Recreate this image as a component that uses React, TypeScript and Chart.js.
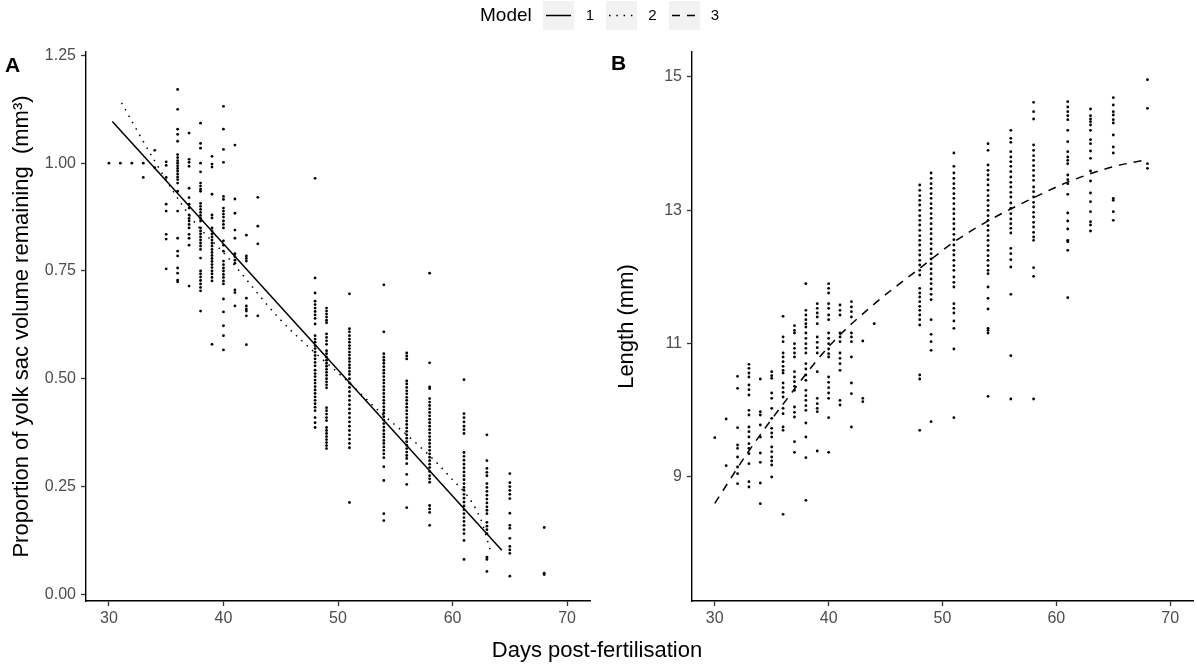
import React, { useEffect, useRef } from "react";
import { Chart, registerables } from "chart.js";

Chart.register(...registerables);

const FONT = '"Liberation Sans", Arial, Helvetica, sans-serif';

// ---------- Panel A: yolk sac proportion ----------
const yolkDays = [30, 31, 32, 33, 34, 35, 36, 37, 38, 39, 40, 41, 42, 43, 48, 49, 51, 54, 56, 58, 61, 63, 65, 68];
const yolkValues: number[][] = [
  [1.0],
  [1.0],
  [1.0],
  [1.0, 0.967],
  [1.03, 0.99],
  [1.003, 0.995, 0.967, 0.905, 0.889, 0.835, 0.824, 0.755],
  [1.171, 1.125, 1.079, 1.067, 1.051, 1.02, 1.013, 1.006, 1.0, 0.994, 0.988, 0.982, 0.975, 0.968, 0.962, 0.954, 0.935, 0.889, 0.826, 0.796, 0.785, 0.757, 0.745, 0.729, 0.725],
  [1.07, 1.009, 1.002, 0.993, 0.942, 0.92, 0.905, 0.896, 0.88, 0.872, 0.866, 0.858, 0.85, 0.835, 0.826, 0.81, 0.715],
  [1.093, 1.046, 1.035, 1.0, 0.98, 0.954, 0.947, 0.94, 0.935, 0.907, 0.9, 0.893, 0.886, 0.879, 0.872, 0.866, 0.85, 0.843, 0.836, 0.829, 0.822, 0.815, 0.808, 0.8, 0.78, 0.75, 0.743, 0.736, 0.728, 0.72, 0.712, 0.704, 0.657],
  [1.016, 0.998, 0.991, 0.928, 0.88, 0.873, 0.85, 0.843, 0.836, 0.829, 0.822, 0.815, 0.808, 0.8, 0.793, 0.786, 0.779, 0.772, 0.765, 0.758, 0.75, 0.743, 0.735, 0.727, 0.58],
  [1.132, 1.079, 1.032, 1.002, 0.923, 0.916, 0.896, 0.889, 0.882, 0.875, 0.866, 0.858, 0.85, 0.82, 0.81, 0.796, 0.773, 0.765, 0.757, 0.75, 0.742, 0.735, 0.727, 0.72, 0.685, 0.655, 0.623, 0.6, 0.567],
  [1.042, 0.917, 0.884, 0.845, 0.826, 0.79, 0.783, 0.775, 0.768, 0.706, 0.7, 0.669],
  [0.833, 0.785, 0.779, 0.773, 0.687, 0.669, 0.662, 0.657, 0.646, 0.579],
  [0.921, 0.854, 0.813, 0.646],
  [0.965, 0.734, 0.699, 0.68, 0.672, 0.664, 0.656, 0.648, 0.64, 0.627, 0.6, 0.592, 0.585, 0.577, 0.57, 0.562, 0.554, 0.546, 0.538, 0.53, 0.52, 0.512, 0.505, 0.497, 0.49, 0.482, 0.474, 0.466, 0.458, 0.45, 0.442, 0.434, 0.426, 0.41, 0.398, 0.387],
  [0.664, 0.657, 0.65, 0.643, 0.636, 0.63, 0.604, 0.596, 0.588, 0.58, 0.565, 0.558, 0.55, 0.543, 0.536, 0.529, 0.522, 0.515, 0.508, 0.5, 0.493, 0.486, 0.479, 0.433, 0.426, 0.418, 0.41, 0.403, 0.387, 0.38, 0.373, 0.366, 0.359, 0.352, 0.345, 0.338],
  [0.697, 0.616, 0.609, 0.6, 0.592, 0.585, 0.577, 0.57, 0.562, 0.555, 0.547, 0.54, 0.532, 0.525, 0.517, 0.51, 0.5, 0.49, 0.48, 0.47, 0.46, 0.45, 0.44, 0.43, 0.42, 0.41, 0.4, 0.39, 0.38, 0.37, 0.36, 0.35, 0.34, 0.213],
  [0.718, 0.609, 0.558, 0.55, 0.543, 0.536, 0.528, 0.52, 0.513, 0.505, 0.497, 0.49, 0.482, 0.474, 0.466, 0.458, 0.45, 0.443, 0.435, 0.427, 0.42, 0.412, 0.404, 0.396, 0.388, 0.38, 0.372, 0.365, 0.357, 0.35, 0.342, 0.334, 0.326, 0.317, 0.296, 0.264, 0.187, 0.171],
  [0.56, 0.553, 0.546, 0.495, 0.488, 0.48, 0.472, 0.465, 0.457, 0.45, 0.442, 0.434, 0.426, 0.418, 0.41, 0.402, 0.394, 0.386, 0.378, 0.37, 0.362, 0.354, 0.346, 0.338, 0.33, 0.322, 0.315, 0.303, 0.278, 0.255, 0.201],
  [0.745, 0.537, 0.481, 0.477, 0.454, 0.446, 0.438, 0.43, 0.422, 0.414, 0.406, 0.398, 0.39, 0.382, 0.374, 0.366, 0.358, 0.35, 0.342, 0.334, 0.326, 0.318, 0.31, 0.302, 0.294, 0.285, 0.275, 0.268, 0.26, 0.206, 0.198, 0.19, 0.16],
  [0.498, 0.419, 0.41, 0.4, 0.39, 0.382, 0.373, 0.329, 0.32, 0.311, 0.302, 0.293, 0.284, 0.275, 0.266, 0.257, 0.248, 0.241, 0.232, 0.223, 0.214, 0.205, 0.196, 0.187, 0.178, 0.169, 0.16, 0.15, 0.141, 0.125, 0.081],
  [0.37, 0.31, 0.292, 0.283, 0.275, 0.257, 0.248, 0.239, 0.23, 0.221, 0.212, 0.203, 0.195, 0.187, 0.167, 0.158, 0.15, 0.141, 0.086, 0.081, 0.053],
  [0.28, 0.259, 0.25, 0.241, 0.232, 0.222, 0.188, 0.16, 0.153, 0.13, 0.111, 0.103, 0.095, 0.042],
  [0.155, 0.049, 0.046],
];

// ---------- Panel B: length ----------
const lengthDays = [30, 31, 32, 33, 34, 35, 36, 37, 38, 39, 40, 41, 42, 43, 44, 48, 49, 51, 54, 56, 58, 61, 63, 65, 68];
const lengthValues: number[][] = [
  [9.59],
  [9.87, 9.17],
  [10.51, 10.33, 9.74, 9.48, 9.43, 9.3, 9.15, 9.05, 8.9],
  [10.69, 10.63, 10.56, 10.5, 10.38, 10.31, 10.23, 10.0, 9.93, 9.75, 9.68, 9.6, 9.5, 9.43, 9.35, 9.2, 8.93, 8.85],
  [10.47, 9.98, 9.93, 9.78, 9.6, 9.36, 9.22, 8.91, 8.6],
  [10.58, 10.52, 10.48, 10.26, 10.18, 10.03, 9.88, 9.73, 9.66, 9.6, 9.45, 9.38, 9.3, 9.24, 9.18, 9.0],
  [11.41, 11.1, 11.03, 10.86, 10.8, 10.73, 10.66, 10.6, 10.56, 10.41, 10.34, 10.27, 10.2, 10.03, 9.95, 9.75, 9.7, 8.44],
  [11.27, 11.2, 11.16, 11.0, 10.93, 10.86, 10.8, 10.58, 10.5, 10.43, 10.36, 10.3, 10.05, 9.97, 9.9, 9.53, 9.37],
  [11.9, 11.5, 11.43, 11.36, 11.3, 11.25, 11.16, 11.08, 11.0, 10.93, 10.86, 10.7, 10.62, 10.53, 10.45, 10.3, 10.22, 10.15, 10.07, 10.0, 9.81, 9.6, 9.29, 8.65],
  [11.6, 11.53, 11.46, 11.4, 11.3, 11.1, 11.02, 10.94, 10.86, 10.58, 10.18, 10.1, 10.03, 9.98, 9.39],
  [11.9, 11.83, 11.76, 11.6, 11.53, 11.43, 11.36, 11.16, 11.08, 11.0, 10.92, 10.85, 10.8, 10.5, 10.42, 10.34, 10.26, 10.18, 9.89, 9.37],
  [11.58, 11.5, 11.43, 11.16, 11.1, 11.03, 10.86, 10.78, 10.7, 10.6, 10.15, 10.08],
  [11.63, 11.55, 11.48, 11.4, 11.16, 11.1, 11.03, 10.8, 10.41, 10.25, 9.75],
  [11.04, 10.18, 10.13],
  [11.3],
  [13.38, 13.3, 13.22, 13.15, 13.08, 13.0, 12.92, 12.85, 12.78, 12.7, 12.62, 12.55, 12.48, 12.4, 12.33, 12.25, 12.18, 12.1, 12.03, 11.83, 11.76, 11.7, 11.63, 11.56, 11.5, 11.43, 11.36, 11.28, 10.53, 10.47, 9.7],
  [13.56, 13.48, 13.4, 13.33, 13.25, 13.18, 13.1, 13.03, 12.95, 12.88, 12.8, 12.72, 12.65, 12.57, 12.5, 12.42, 12.35, 12.27, 12.2, 12.12, 12.05, 11.97, 11.9, 11.82, 11.74, 11.66, 11.36, 11.14, 11.03, 10.9, 9.83],
  [13.86, 13.66, 13.56, 13.48, 13.4, 13.33, 13.25, 13.18, 13.1, 13.02, 12.95, 12.87, 12.8, 12.72, 12.64, 12.56, 12.48, 12.4, 12.33, 12.25, 12.17, 12.1, 12.0, 11.92, 11.85, 11.6, 11.53, 11.46, 11.34, 11.23, 10.92, 9.89],
  [14.0, 13.9, 13.68, 13.6, 13.53, 13.46, 13.38, 13.3, 13.22, 13.15, 13.07, 13.0, 12.92, 12.85, 12.77, 12.7, 12.62, 12.55, 12.47, 12.4, 12.32, 12.25, 12.17, 12.1, 12.05, 11.85, 11.68, 11.52, 11.23, 11.2, 11.16, 10.21],
  [14.2, 14.08, 14.02, 13.88, 13.8, 13.73, 13.66, 13.58, 13.5, 13.42, 13.35, 13.27, 13.2, 13.11, 13.03, 12.95, 12.87, 12.8, 12.73, 12.66, 12.43, 12.35, 12.26, 12.15, 11.74, 10.82, 10.17],
  [14.62, 14.48, 14.37, 13.98, 13.9, 13.82, 13.75, 13.67, 13.6, 13.52, 13.45, 13.35, 13.28, 13.2, 13.12, 13.05, 12.97, 12.9, 12.82, 12.75, 12.67, 12.6, 12.55, 12.14, 12.01, 10.17],
  [14.63, 14.55, 14.48, 14.42, 14.36, 14.2, 14.03, 13.88, 13.8, 13.75, 13.7, 13.53, 13.46, 13.4, 13.24, 12.96, 12.84, 12.72, 12.55, 12.53, 12.4, 11.69],
  [14.52, 14.42, 14.37, 14.33, 14.28, 14.2, 14.06, 14.0, 13.89, 13.78, 13.59, 13.44, 13.26, 13.13, 12.98, 12.83, 12.78, 12.69],
  [14.69, 14.58, 14.48, 14.43, 14.36, 14.31, 14.13, 13.95, 13.86, 13.18, 13.15, 12.98, 12.85],
  [14.96, 14.53, 13.7, 13.63],
];

// ---------- Model fits ----------
const model1Days = [30.3, 64.3];
const model1Yolk = [1.097, 0.102];
const model2Days = [31.1, 34, 37.2, 40.4, 44.9, 47.8, 50.8, 53.7, 56.6, 59.5, 62.4, 63.3];
const model2Yolk = [1.14, 1.005, 0.873, 0.781, 0.639, 0.565, 0.495, 0.422, 0.356, 0.28, 0.178, 0.102];
const model3Days = [30, 32.85, 36.05, 40.0, 43.9, 48, 51.05, 54.1, 57.9, 61.1, 64.9, 67.65];
const model3Length = [8.605, 9.355, 10.105, 10.955, 11.58, 12.13, 12.53, 12.85, 13.18, 13.43, 13.65, 13.75];

// ---------- Axes ----------
const xTicks = [30, 40, 50, 60, 70];
const yolkTicks = [0, 0.25, 0.5, 0.75, 1.0, 1.25];
const lengthTicks = [9, 11, 13, 15];
const legendLabels = ["1", "2", "3"];
const modelDashes: number[][] = [[], [1.5, 5.8], [8, 7]];

function toPoints(days: number[], values: number[][]) {
  const pts: { x: number; y: number }[] = [];
  days.forEach((d, i) => values[i].forEach((v) => pts.push({ x: d, y: v })));
  return pts;
}
function pairs(xs: number[], ys: number[]) {
  return xs.map((x, i) => ({ x, y: ys[i] }));
}

function lineDataset(data: { x: number; y: number }[], dash: number[]) {
  return {
    data,
    showLine: true,
    borderColor: "#000",
    borderWidth: 1.5,
    borderDash: dash,
    pointRadius: 0,
    cubicInterpolationMode: "monotone",
    fill: false,
  };
}
function pointDataset(data: { x: number; y: number }[]) {
  return {
    data,
    showLine: false,
    pointRadius: 1.4,
    pointBackgroundColor: "#000",
    pointBorderWidth: 0,
  };
}

function makeOptions(p: {
  yMin: number;
  yMax: number;
  yTicks: number[];
  yFmt: (v: number) => string;
  yTitle: string;
  yWidth: number;
  titlePad: number;
  padRight: number;
}) {
  const tickFont = { family: FONT, size: 16 };
  return {
    animation: false,
    responsive: false,
    events: [],
    layout: { padding: { left: 0, top: 52, right: p.padRight, bottom: 35 } },
    plugins: { legend: { display: false }, tooltip: { enabled: false } },
    scales: {
      x: {
        type: "linear",
        min: 28,
        max: 72,
        afterBuildTicks: (s: any) => {
          s.ticks = xTicks.map((v) => ({ value: v }));
        },
        afterFit: (s: any) => {
          s.height = 30;
        },
        ticks: { color: "#4d4d4d", font: tickFont, padding: 3, autoSkip: false, maxRotation: 0, callback: (v: any) => String(v) },
        grid: { display: true, drawOnChartArea: false, drawTicks: true, tickLength: 5, tickColor: "#333", tickWidth: 1.3 },
        border: { display: true, color: "#000", width: 1.4 },
      },
      y: {
        type: "linear",
        min: p.yMin,
        max: p.yMax,
        afterBuildTicks: (s: any) => {
          s.ticks = p.yTicks.map((v) => ({ value: v }));
        },
        afterFit: (s: any) => {
          s.width = p.yWidth;
        },
        ticks: { color: "#4d4d4d", font: tickFont, padding: 5, autoSkip: false, callback: (v: any) => p.yFmt(Number(v)) },
        grid: { display: true, drawOnChartArea: false, drawTicks: true, tickLength: 5, tickColor: "#333", tickWidth: 1.3 },
        border: { display: true, color: "#000", width: 1.4 },
        title: {
          display: true,
          text: p.yTitle,
          color: "#000",
          font: { family: FONT, size: 22 },
          padding: { top: p.titlePad, bottom: 0 },
        },
      },
    },
  };
}

function Panel({ left, width, build }: { left: number; width: number; build: () => any }) {
  const ref = useRef<HTMLCanvasElement>(null);
  useEffect(() => {
    const chart = new Chart(ref.current as HTMLCanvasElement, build());
    return () => chart.destroy();
  }, []);
  return (
    <canvas
      ref={ref}
      width={width}
      height={666}
      style={{ position: "absolute", left, top: 0, width, height: 666 }}
    />
  );
}

const buildA = () => ({
  type: "scatter",
  data: {
    datasets: [
      lineDataset(pairs(model1Days, model1Yolk), modelDashes[0]),
      lineDataset(pairs(model2Days, model2Yolk), modelDashes[1]),
      pointDataset(toPoints(yolkDays, yolkValues)),
    ],
  },
  options: makeOptions({
    yMin: -0.0155,
    yMax: 1.258,
    yTicks: yolkTicks,
    yFmt: (v) => v.toFixed(2),
    yTitle: "Proportion of yolk sac volume remaining  (mm³)",
    yWidth: 86,
    titlePad: 9,
    padRight: 10,
  }),
});

const buildB = () => ({
  type: "scatter",
  data: {
    datasets: [
      lineDataset(pairs(model3Days, model3Length), modelDashes[2]),
      pointDataset(toPoints(lengthDays, lengthValues)),
    ],
  },
  options: makeOptions({
    yMin: 7.14,
    yMax: 15.375,
    yTicks: lengthTicks,
    yFmt: (v) => String(v),
    yTitle: "Length (mm)",
    yWidth: 92,
    titlePad: 14,
    padRight: 2,
  }),
});

const keyBoxes = [543, 606, 669];
const keyLabelX = [590, 652.5, 715];

export default function App() {
  return (
    <div style={{ position: "absolute", left: 0, top: 0, width: 1197, height: 666, background: "#fff", overflow: "hidden", fontFamily: FONT }}>
      <Panel left={0} width={600} build={buildA} />
      <Panel left={600} width={597} build={buildB} />

      {/* legend */}
      <div style={{ position: "absolute", left: 480, top: 5, fontSize: 19, lineHeight: "19px", color: "#000" }}>Model</div>
      <svg style={{ position: "absolute", left: 0, top: 0 }} width={1197} height={34}>
        {keyBoxes.map((x, i) => (
          <g key={i}>
            <rect x={x} y={1} width={31} height={29} fill="#f2f2f2" />
            <line
              x1={x + 3}
              x2={x + 28}
              y1={15.5}
              y2={15.5}
              stroke="#000"
              strokeWidth={1.5}
              strokeDasharray={modelDashes[i].length ? modelDashes[i].join(" ") : undefined}
            />
          </g>
        ))}
      </svg>
      {legendLabels.map((t, i) => (
        <div
          key={t}
          style={{ position: "absolute", left: keyLabelX[i] - 10, width: 20, textAlign: "center", top: 7, fontSize: 15, lineHeight: "15px", color: "#000" }}
        >
          {t}
        </div>
      ))}

      {/* panel tags */}
      <div style={{ position: "absolute", left: 5, top: 54, fontSize: 21, lineHeight: "21px", fontWeight: "bold", color: "#000" }}>A</div>
      <div style={{ position: "absolute", left: 611, top: 52, fontSize: 21, lineHeight: "21px", fontWeight: "bold", color: "#000" }}>B</div>

      {/* shared x title */}
      <div style={{ position: "absolute", left: 0, width: 1194, textAlign: "center", top: 639, fontSize: 22, lineHeight: "22px", color: "#000" }}>
        Days post-fertilisation
      </div>
    </div>
  );
}
